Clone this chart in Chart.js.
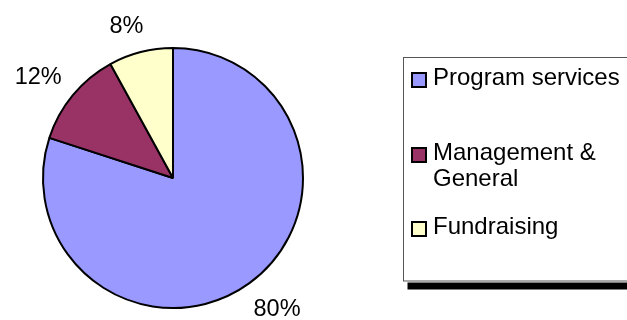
<!DOCTYPE html>
<html>
<head>
<meta charset="utf-8">
<script src="https://cdn.jsdelivr.net/npm/chart.js@4/dist/chart.umd.min.js"></script>
<style>
  html, body { margin: 0; padding: 0; background: #fff; }
  #wrap { width: 627px; height: 320px; position: relative; }
</style>
</head>
<body>
<div id="wrap"><canvas id="pie-canvas" width="627" height="320"></canvas></div>
<script>
// Data
const categories = ['Program services', 'Management & General', 'Fundraising'];
const shares = [80, 12, 8];
const sliceColors = ['#9999FF', '#993366', '#FFFFCC'];

const FONT = '"Liberation Sans", Arial, sans-serif';
const LABEL_SIZE = 23.5;
const LEGEND_SIZE = 24;

// Percent labels outside each slice
const outsideLabels = {
    id: 'outsideLabels',
    afterDatasetsDraw(chart) {
        const ctx = chart.ctx;
        const meta = chart.getDatasetMeta(0);
        const total = shares.reduce((a, b) => a + b, 0);
        ctx.save();
        ctx.font = LABEL_SIZE + 'px ' + FONT;
        ctx.fillStyle = '#000';
        ctx.textAlign = 'center';
        ctx.textBaseline = 'middle';
        meta.data.forEach((arc, i) => {
            const p = arc.getProps(['x', 'y', 'startAngle', 'endAngle', 'outerRadius'], true);
            // excel sits the labels a touch behind the slice middle
            const mid = (p.startAngle + p.endAngle) / 2 - 0.045;
            const txt = Math.round(shares[i] / total * 100) + '%';
            const w = ctx.measureText(txt).width;
            const h = LABEL_SIZE;
            const c = Math.cos(mid), s = Math.sin(mid);
            // push the text box clear of the rim
            const d = p.outerRadius + 13 + Math.abs(c) * w / 2 + Math.abs(s) * h / 2;
            ctx.fillText(txt, p.x + c * d, p.y + s * d + 1);
        });
        ctx.restore();
    }
};

// Boxed legend on the right, with the drop shadow
const boxLegend = {
    id: 'boxLegend',
    afterDraw(chart) {
        const ctx = chart.ctx;
        const box = { x: 403.5, y: 57.5, w: 260, h: 223.5 };
        const rowY = [80, 155, 229];
        const lineH = 26;
        ctx.save();
        // shadow
        ctx.fillStyle = '#000';
        ctx.fillRect(box.x + 4, box.y + box.h + 1.5, box.w, 7);
        // box
        ctx.fillStyle = '#fff';
        ctx.fillRect(box.x, box.y, box.w, box.h);
        ctx.strokeStyle = '#555';
        ctx.lineWidth = 1;
        ctx.strokeRect(box.x, box.y, box.w, box.h);

        ctx.font = LEGEND_SIZE + 'px ' + FONT;
        ctx.textBaseline = 'middle';
        ctx.textAlign = 'left';
        const maxW = 200;
        categories.forEach((name, i) => {
            // marker
            ctx.fillStyle = sliceColors[i];
            ctx.fillRect(412, rowY[i] - 7, 14, 14);
            ctx.strokeStyle = '#000';
            ctx.lineWidth = 2;
            ctx.strokeRect(412, rowY[i] - 7, 14, 14);
            // wrapped text
            const words = name.split(' ');
            const lines = [];
            let cur = '';
            words.forEach(wd => {
                const test = cur ? cur + ' ' + wd : wd;
                if (ctx.measureText(test).width > maxW && cur) {
                    lines.push(cur);
                    cur = wd;
                } else {
                    cur = test;
                }
            });
            lines.push(cur);
            ctx.fillStyle = '#000';
            lines.forEach((ln, k) => ctx.fillText(ln, 433, rowY[i] - 2 + k * lineH));
        });
        ctx.restore();
    }
};

const pieChart = new Chart(document.getElementById('pie-canvas'), {
    type: 'pie',
    data: {
        labels: categories,
        datasets: [{
            data: shares,
            backgroundColor: sliceColors,
            borderColor: '#000',
            borderWidth: 2
        }]
    },
    options: {
        responsive: false,
        animation: false,
        layout: { padding: { left: 42, right: 323, top: 47, bottom: 11 } },
        plugins: {
            legend: { display: false },
            tooltip: { enabled: false }
        }
    },
    plugins: [outsideLabels, boxLegend]
});
</script>
</body>
</html>
